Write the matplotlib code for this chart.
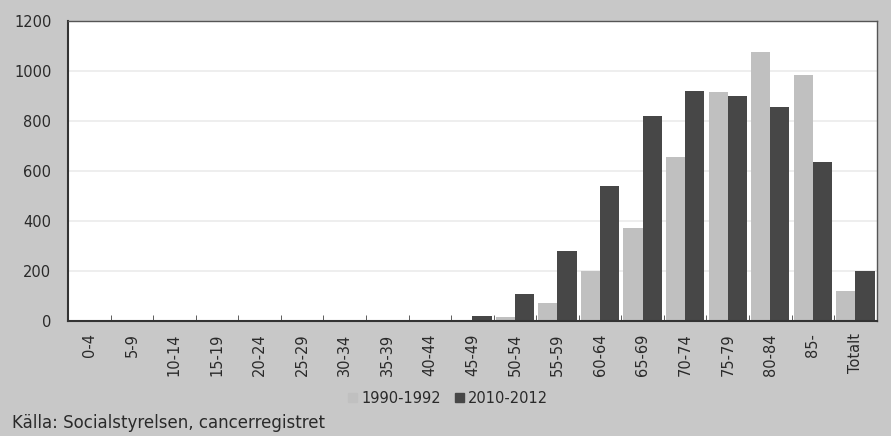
import numpy as np
import matplotlib.pyplot as plt
from matplotlib.patches import Patch

age_groups = ['0-4', '5-9', '10-14', '15-19', '20-24', '25-29', '30-34', '35-39',
              '40-44', '45-49', '50-54', '55-59', '60-64', '65-69', '70-74',
              '75-79', '80-84', '85-', 'Totalt']
p1990 = [0, 0, 0, 0, 0, 0, 0, 0, 0, 3, 15, 72, 200, 370, 655, 915, 1078, 984, 120]
p2010 = [0, 0, 0, 0, 0, 0, 0, 0, 0, 20, 108, 278, 540, 820, 920, 900, 855, 638, 200]

light = '#c0c0c0'
dark = '#474747'
bg = '#c8c8c8'
txt = '#2a2a2a'

plt.rcParams['font.family'] = ['DejaVu Sans']

fig = plt.figure(figsize=(8.91, 4.36), dpi=100, facecolor=bg)
ax = fig.add_axes([0.0763, 0.2638, 0.9077, 0.688])

x = np.arange(len(age_groups))
w = 0.45
ax.bar(x - w / 2, p1990, width=w, color=light, zorder=2)
ax.bar(x + w / 2, p2010, width=w, color=dark, zorder=2)

ax.set_xlim(-0.5, len(age_groups) - 0.5)
ax.set_ylim(0, 1200)
ax.set_yticks(range(0, 1201, 200))
ax.yaxis.grid(True, color='#ebebeb', linewidth=1.2, zorder=0)
ax.set_axisbelow(True)

ax.set_xticks(x)
ax.set_xticklabels(age_groups, rotation=90, fontsize=10.5, color=txt)
ax.set_xticks(np.arange(0.5, len(age_groups) - 1, 1), minor=True)
ax.tick_params(axis='x', which='major', length=0, pad=9)
ax.tick_params(axis='x', which='minor', direction='in', length=4, color='#444444')
ax.tick_params(axis='y', length=0, pad=12, labelsize=10.5, labelcolor=txt)

for s in ax.spines.values():
    s.set_color('#555555')
    s.set_linewidth(1.0)
ax.spines['left'].set_color('#333333')
ax.spines['bottom'].set_color('#333333')
ax.spines['left'].set_linewidth(1.5)
ax.spines['bottom'].set_linewidth(1.5)

handles = [Patch(color=light, label='1990-1992'), Patch(color=dark, label='2010-2012')]
leg = fig.legend(handles=handles, loc='center', bbox_to_anchor=(0.503, 0.087), ncol=2,
                 frameon=False, fontsize=10.5, handlelength=0.6, handleheight=0.6,
                 handletextpad=0.3, columnspacing=1.0)
for t in leg.get_texts():
    t.set_color(txt)

fig.text(0.013, 0.03, 'Källa: Socialstyrelsen, cancerregistret', fontsize=12,
         color=txt, va='center', ha='left')

fig.savefig('out.png', dpi=100, facecolor=bg)
